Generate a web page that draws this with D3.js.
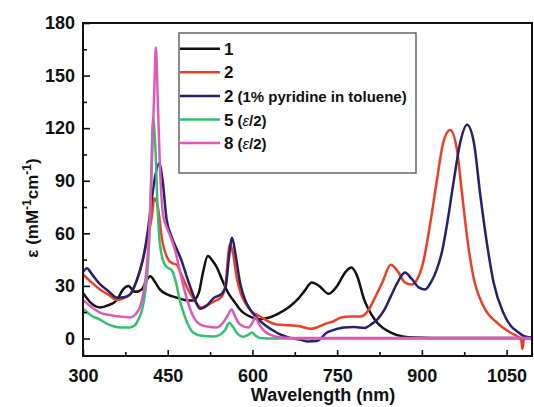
<!DOCTYPE html>
<html>
<head>
<meta charset="utf-8">
<script src="https://cdn.jsdelivr.net/npm/d3@7"></script>
<style>
  body { margin: 0; background: #fff; }
  text { font-family: "Liberation Sans", Arial, sans-serif; font-weight: bold; }
</style>
</head>
<body>
<div id="chart"></div>
<script>
var width = 534, height = 407;

// data (wavelength in nm, epsilon in mM-1 cm-1)
var w1 = [300, 315, 330, 345, 360, 371, 380, 392, 404, 412, 419, 428, 436, 450, 466, 480, 495, 505, 512, 521, 530, 537, 547, 557, 568, 578, 599, 613, 630, 649, 665, 679, 692, 705, 718, 735, 750, 765, 775, 785, 798, 810, 821, 845, 866, 886, 950, 1095];
var e1 = [26, 20, 17.7, 19, 22, 28, 30, 26.6, 28, 33, 35.5, 32, 28, 25, 23.3, 22, 21.7, 26, 37, 47, 44, 40.5, 33, 26, 21, 16.5, 12, 11, 12, 14.8, 18, 22, 27, 32, 30, 25.5, 30, 38, 40.5, 36, 22, 14, 9, 3.4, 1.2, 0.5, 0.2, 0.2];

var w2 = [300, 315, 330, 345, 360, 372, 383, 395, 406, 415, 422, 426, 432, 440, 451, 458, 466, 472, 478, 486, 495, 510, 520, 531, 546, 552, 560, 566, 572, 580, 587, 600, 613, 630, 643, 665, 684, 703, 714, 730, 743, 757, 775, 792, 805, 815, 830, 845, 858, 870, 882, 892, 902, 914, 926, 938, 950, 962, 971, 980, 991, 1009, 1033, 1056, 1072, 1076, 1078, 1081, 1095];
var e2 = [36.5, 32, 28, 25, 22, 23, 25, 33, 45, 58, 70, 80, 76, 56.4, 45, 43, 42, 38, 33.6, 28, 23, 17.7, 19, 21, 24, 30, 53.6, 48, 35, 25, 20.5, 15, 12.7, 9.5, 8, 7.5, 7, 5.5, 6.3, 8.5, 9.7, 12, 12.5, 12.6, 16, 22, 32, 42, 38, 32, 30.8, 34, 43, 64, 89, 112, 119, 108, 83, 58, 35.5, 18.4, 9, 3.4, 0.5, -1, -6, 0, 0];

var w2py = [300, 307, 315, 330, 345, 360, 372, 383, 395, 406, 415, 422, 428, 435, 441, 448, 457, 466, 475, 484, 495, 507, 520, 531, 546, 553, 558, 564, 570, 578, 587, 596, 610, 625, 637, 649, 665, 684, 697, 714, 732, 745, 762, 780, 798, 810, 821, 833, 845, 857, 870, 882, 895, 906, 916, 926, 936, 944, 956, 968, 980, 992, 1003, 1015, 1027, 1044, 1058, 1068, 1080, 1095];
var e2py = [38, 40, 37, 31, 27, 23.3, 23.5, 25, 33, 45, 62, 80, 93, 100, 90, 68, 58, 51, 44, 35, 25, 17, 19, 23, 25.6, 30, 45, 57.5, 48, 32, 22, 16.5, 11, 7, 4.5, 2.3, 0.5, -0.6, -1.7, -1.5, 3.4, 5, 6.3, 6.5, 6, 8, 10.8, 16, 24, 32, 37.6, 34, 29, 28, 32, 39, 50, 64, 89, 112, 122, 112, 83, 54.7, 32, 14.8, 7, 4.2, 1.5, 0.5];

var w5 = [300, 315, 330, 345, 354, 368, 383, 392, 398, 405, 410, 415, 419, 424, 428, 432, 436, 445, 452, 457, 462, 466, 472, 478, 486, 495, 510, 531, 543, 552, 559, 565, 572, 584, 592, 599, 606, 613, 640, 1095];
var e5 = [17, 13, 10.8, 8, 7, 6.3, 6.3, 7.5, 10.8, 17, 26, 42, 70, 126, 110, 75, 54.5, 42, 40, 39, 35, 30, 21, 14.8, 8, 3.4, 1.5, 1.1, 2.3, 5, 9, 7, 3.4, 1, 2, 3.4, 1.5, 0.3, 0, 0];

var w8 = [300, 315, 330, 345, 360, 372, 383, 392, 401, 408, 413, 418, 422, 426, 429, 432, 436, 442, 450, 457, 465, 472, 481, 490, 498, 507, 520, 537, 548, 556, 563, 570, 578, 593, 600, 605, 612, 622, 632, 643, 670, 1095];
var e8 = [22, 18, 14.8, 13.5, 12.7, 12.3, 12, 13.5, 18, 28, 41, 65, 100, 140, 166, 140, 100, 70, 62, 56.4, 48, 37.6, 26, 16.5, 11, 8, 6.8, 6.3, 9, 13, 16.5, 12, 8, 6.3, 9, 12, 8, 4, 2, 1, 0.3, 0.2];

var seriesNames = ["1", "2", "2", "5", "8"];
var seriesNotes = ["", "", "(1% pyridine in toluene)", "(\u03b5/2)", "(\u03b5/2)"];
var seriesColors = ["#111111", "#ef3f22", "#25216f", "#33c06f", "#e058b8"];
var seriesX = [w1, w2, w2py, w5, w8];
var seriesY = [e1, e2, e2py, e5, e8];

var xMajor = [300, 450, 600, 750, 900, 1050];
var xMinor = [375, 525, 675, 825, 975];
var yMajor = [0, 30, 60, 90, 120, 150, 180];
var yMinor = [15, 45, 75, 105, 135, 165];

var margin = {left: 83, top: 23, right: 2, bottom: 51};
var plotW = width - margin.left - margin.right;
var plotH = height - margin.top - margin.bottom;

var svg = d3.select("#chart").append("svg")
  .attr("width", width)
  .attr("height", height);

var x = d3.scaleLinear().domain([300, 1095]).range([0, plotW]);
var y = d3.scaleLinear().domain([-10, 180]).range([plotH, 0]);

var g = svg.append("g").attr("transform", "translate(" + margin.left + "," + margin.top + ")");

g.append("defs").append("clipPath").attr("id", "clip")
  .append("rect").attr("x", 0).attr("y", -2).attr("width", plotW).attr("height", plotH + 10);

// curves
var line = d3.line()
  .x(d => x(d[0]))
  .y(d => y(d[1]))
  .curve(d3.curveMonotoneX);

seriesX.forEach(function(xs, i) {
  var pts = xs.map((v, j) => [v, seriesY[i][j]]);
  g.append("path")
    .datum(pts)
    .attr("clip-path", "url(#clip)")
    .attr("fill", "none")
    .attr("stroke", seriesColors[i])
    .attr("stroke-width", 2.5)
    .attr("stroke-linejoin", "round")
    .attr("d", line);
});

// axes, ticks inside
g.append("g").attr("transform", "translate(0," + plotH + ")")
  .call(d3.axisBottom(x).tickValues(xMajor).tickSize(-6).tickPadding(13).tickFormat(d3.format("d")));
g.append("g").attr("transform", "translate(0," + plotH + ")")
  .call(d3.axisBottom(x).tickValues(xMinor).tickSize(-4).tickFormat(""));
g.append("g")
  .call(d3.axisLeft(y).tickValues(yMajor).tickSize(-7).tickPadding(8));
g.append("g")
  .call(d3.axisLeft(y).tickValues(yMinor).tickSize(-4).tickFormat(""));

g.selectAll(".domain").remove();
g.selectAll(".tick line").attr("stroke", "#111").attr("stroke-width", 1.6);
g.selectAll(".tick text")
  .attr("fill", "#111")
  .style("font-size", "18px")
  .style("font-family", "'Liberation Sans', Arial, sans-serif")
  .style("font-weight", "bold");

// frame
g.append("rect")
  .attr("x", 0).attr("y", 0)
  .attr("width", plotW).attr("height", plotH)
  .attr("fill", "none")
  .attr("stroke", "#111")
  .attr("stroke-width", 2);

// legend
var legend = svg.append("g").attr("transform", "translate(179,33)");
legend.append("rect")
  .attr("width", 237).attr("height", 140)
  .attr("fill", "#fff")
  .attr("stroke", "#666")
  .attr("stroke-width", 1.5);

seriesNames.forEach(function(name, i) {
  var ry = 15.7 + i * 23.6;
  legend.append("line")
    .attr("x1", 1).attr("x2", 41)
    .attr("y1", ry).attr("y2", ry)
    .attr("stroke", seriesColors[i])
    .attr("stroke-width", 2.5);
  var t = legend.append("text")
    .attr("x", 45).attr("y", ry + 6)
    .attr("fill", "#111")
    .style("font-size", "17px")
    .text(name);
  if (seriesNotes[i]) {
    var note = t.append("tspan").attr("dx", 4).style("font-size", "15px");
    if (i == 2) {
      note.text(seriesNotes[i]);
    } else {
      note.text("(");
      t.append("tspan").style("font-size", "15px").style("font-style", "italic").style("font-weight", "normal").text("\u03b5");
      t.append("tspan").style("font-size", "15px").text("/2)");
    }
  }
});

// axis titles
svg.append("text")
  .attr("x", 323).attr("y", 401)
  .attr("text-anchor", "middle")
  .attr("fill", "#111")
  .style("font-size", "18px")
  .text("Wavelength (nm)");

var yl = svg.append("text")
  .attr("transform", "translate(38,208) rotate(-90)")
  .attr("text-anchor", "middle")
  .attr("fill", "#111")
  .style("font-size", "17px");
yl.append("tspan").text("\u03b5 (mM");
yl.append("tspan").attr("dy", -7).style("font-size", "12px").text("-1");
yl.append("tspan").attr("dy", 7).text("cm");
yl.append("tspan").attr("dy", -7).style("font-size", "12px").text("-1");
yl.append("tspan").attr("dy", 7).text(")");
</script>
</body>
</html>
